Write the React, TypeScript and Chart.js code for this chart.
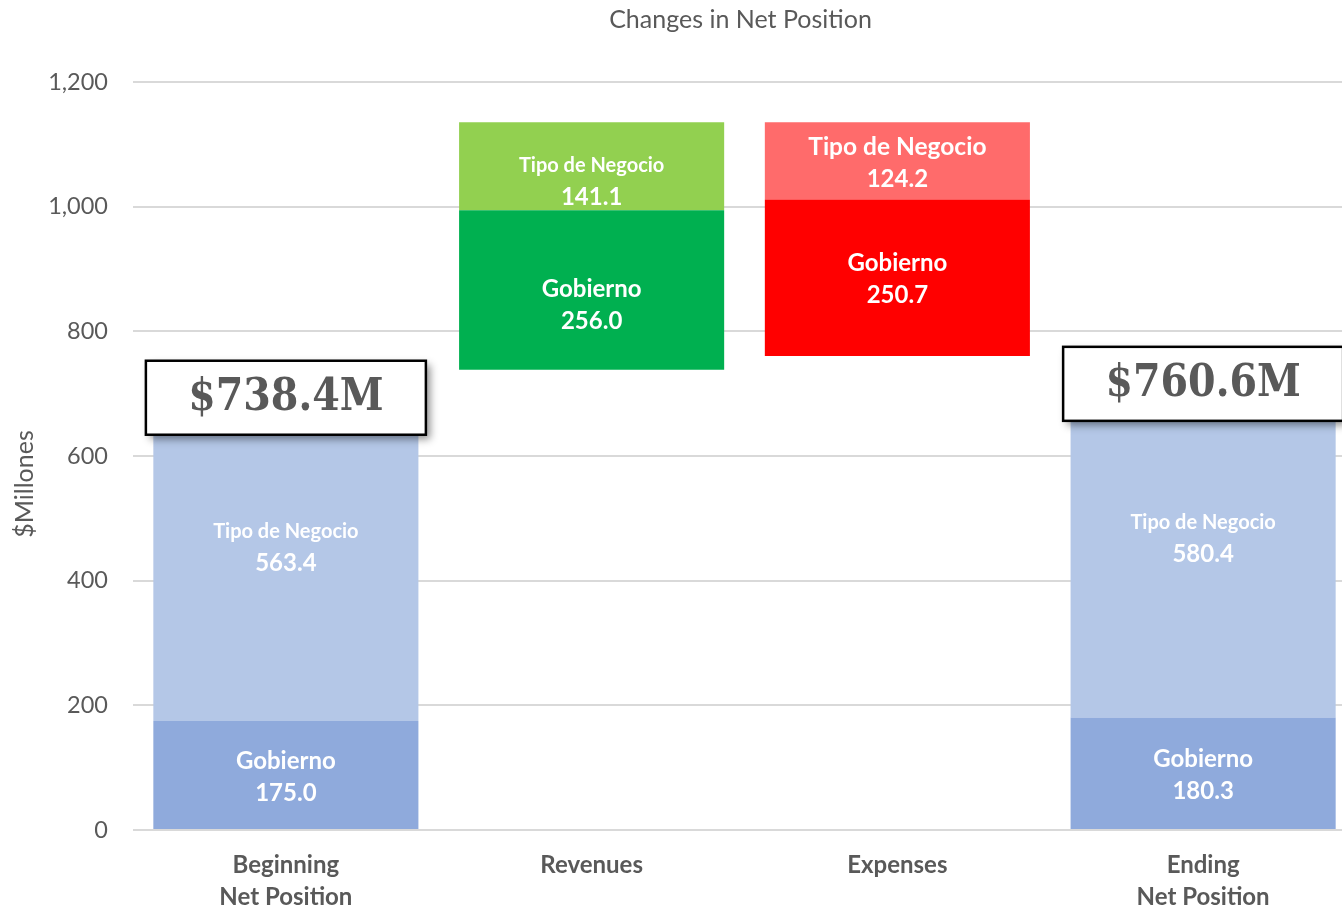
import React, { useEffect, useRef } from "react";
import { Chart, registerables } from "chart.js";
Chart.register(...registerables);

const categories = [["Beginning", "Net Position"], ["Revenues"], ["Expenses"], ["Ending", "Net Position"]];
const stepKinds = ["total", "increase", "decrease", "total"];
const gobiernoValues = [175.0, 256.0, 250.7, 180.3];
const tipoValues = [563.4, 141.1, 124.2, 580.4];
const totalLabels = ["$738.4M", "", "", "$760.6M"];
const seriesNames = ["Gobierno", "Tipo de Negocio"];
const yTickValues = [0, 200, 400, 600, 800, 1000, 1200];
const chartTitle = "Changes in Net Position";
const yAxisTitle = "$Millones";

const gobColors = ["#8FAADC", "#00B050", "#FF0000", "#8FAADC"];
const tipoColors = ["#B4C7E7", "#92D050", "#FF6B6B", "#B4C7E7"];
const FONT = "Lato, 'Open Sans', sans-serif";
const TEXT = "#595959";

function buildRanges() {
  let running = 0;
  const gob: number[][] = [];
  const tipo: number[][] = [];
  stepKinds.forEach((k, i) => {
    const g = gobiernoValues[i];
    const t = tipoValues[i];
    if (k === "total") {
      gob.push([0, g]);
      tipo.push([g, g + t]);
      running = g + t;
    } else if (k === "increase") {
      gob.push([running, running + g]);
      tipo.push([running + g, running + g + t]);
      running += g + t;
    } else {
      const bottom = running - g - t;
      gob.push([bottom, bottom + g]);
      tipo.push([bottom + g, running]);
      running = bottom;
    }
  });
  return { gob, tipo };
}

const labelStyle = {
  offsets: [2, 15, 2, 2],
  tipoNameSize: [20, 20, 24.5, 20],
  gobNameSize: 24,
  valueSize: 24,
  lineGap: 32,
};

const labelsPlugin = {
  id: "barLabels",
  afterDatasetsDraw(chart: any) {
    const ctx = chart.ctx;
    ctx.save();
    ctx.fillStyle = "#FFFFFF";
    ctx.textAlign = "center";
    ctx.textBaseline = "middle";
    chart.data.datasets.forEach((ds: any, di: number) => {
      const meta = chart.getDatasetMeta(di);
      meta.data.forEach((el: any, i: number) => {
        const mid = (el.y + el.base) / 2 + labelStyle.offsets[i];
        const vals = di === 0 ? gobiernoValues : tipoValues;
        const nameSize = di === 0 ? labelStyle.gobNameSize : labelStyle.tipoNameSize[i];
        ctx.font = `bold ${nameSize}px ${FONT}`;
        ctx.fillText(seriesNames[di], el.x, mid - labelStyle.lineGap / 2);
        ctx.font = `bold ${labelStyle.valueSize}px ${FONT}`;
        ctx.fillText(vals[i].toFixed(1), el.x, mid + labelStyle.lineGap / 2);
      });
    });
    // total boxes
    const meta = chart.getDatasetMeta(1);
    meta.data.forEach((el: any, i: number) => {
      if (!totalLabels[i]) return;
      const w = 280, h = 74;
      const cx = el.x, cy = el.y + 28;
      ctx.save();
      ctx.shadowColor = "rgba(0,0,0,0.45)";
      ctx.shadowBlur = 8;
      ctx.shadowOffsetX = 4;
      ctx.shadowOffsetY = 4;
      ctx.fillStyle = "#FFFFFF";
      ctx.fillRect(cx - w / 2, cy - h / 2, w, h);
      ctx.restore();
      ctx.strokeStyle = "#000000";
      ctx.lineWidth = 2.5;
      ctx.strokeRect(cx - w / 2, cy - h / 2, w, h);
      ctx.fillStyle = TEXT;
      ctx.font = `bold 44px 'DejaVu Serif Condensed', 'DejaVu Serif', serif`;
      ctx.textAlign = "center";
      ctx.textBaseline = "middle";
      ctx.fillText(totalLabels[i], cx, cy + 1);
    });
    ctx.restore();
  },
  afterDraw(chart: any) {
    const ctx = chart.ctx;
    const a = chart.chartArea;
    ctx.save();
    ctx.fillStyle = TEXT;
    ctx.font = `25px ${FONT}`;
    ctx.textAlign = "center";
    ctx.textBaseline = "middle";
    ctx.fillText(chartTitle, (a.left + a.right) / 2 - 4, 20);
    ctx.translate(25, 484);
    ctx.rotate(-Math.PI / 2);
    ctx.fillText(yAxisTitle, 0, 0);
    ctx.restore();
  },
};

export default function App() {
  const ref = useRef<HTMLCanvasElement>(null);
  useEffect(() => {
    const { gob, tipo } = buildRanges();
    const chart = new Chart(ref.current!, {
      type: "bar",
      data: {
        labels: categories as any,
        datasets: [
          {
            label: seriesNames[0],
            data: gob as any,
            backgroundColor: gobColors,
            borderWidth: 0,
            grouped: false,
            categoryPercentage: 1,
            barPercentage: 0.867,
          } as any,
          {
            label: seriesNames[1],
            data: tipo as any,
            backgroundColor: tipoColors,
            borderWidth: 0,
            grouped: false,
            categoryPercentage: 1,
            barPercentage: 0.867,
          } as any,
        ],
      },
      options: {
        animation: false,
        responsive: false,
        devicePixelRatio: 1,
        layout: { padding: { top: 82, left: 0, right: 0, bottom: 0 } },
        plugins: {
          legend: { display: false },
          tooltip: { enabled: false },
          title: { display: false },
        },
        scales: {
          x: {
            offset: true,
            grid: { display: false },
            border: { display: false },
            ticks: {
              color: TEXT,
              font: { family: FONT, size: 24, weight: "bold", lineHeight: 1.35 },
              padding: 11,
              maxRotation: 0,
              autoSkip: false,
            },
            afterFit(scale: any) {
              scale.height = 78;
            },
          },
          y: {
            min: 0,
            max: 1200,
            afterBuildTicks(scale: any) {
              scale.ticks = yTickValues.map((v) => ({ value: v }));
            },
            grid: { color: "#D9D9D9", lineWidth: 2, drawTicks: false },
            border: { display: false },
            ticks: {
              color: TEXT,
              font: { family: FONT, size: 23.5 },
              padding: 25,
              callback: (v: any) => Number(v).toLocaleString("en-US"),
            },
            afterFit(scale: any) {
              scale.width = 133;
            },
          },
        },
      } as any,
      plugins: [labelsPlugin],
    });
    return () => chart.destroy();
  }, []);
  return (
    <div style={{ position: "fixed", left: 0, top: 0, width: 1342, height: 908, overflow: "hidden", background: "#fff" }}>
      <canvas ref={ref} width={1356} height={908} style={{ display: "block", width: 1356, height: 908 }} />
    </div>
  );
}
